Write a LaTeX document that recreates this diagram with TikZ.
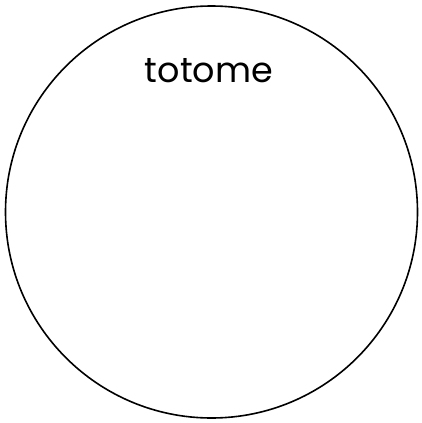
\documentclass[tikz,border=0pt]{standalone}
\usepackage{fontspec}
\setmainfont{Poppins}
\usetikzlibrary{positioning}
\tikzset{
  ring/.style={circle, draw=black, line width=1.6pt, minimum size=412pt, inner sep=0pt},
  ringlabel/.style={font=\fontsize{35}{38}\selectfont, text=black}
}
\begin{document}
\begin{tikzpicture}[x=1pt,y=-1pt]
  \useasboundingbox (0,0) rectangle (422,423);
  \node[ring] (ball) at (211.5,212) {};
  \node[ringlabel] (name) at (209,71) {totome};
\end{tikzpicture}
\end{document}
